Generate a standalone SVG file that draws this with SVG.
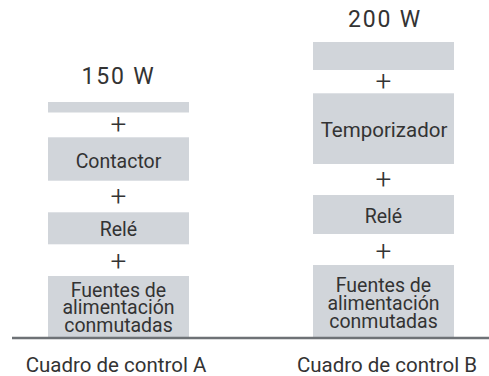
<svg xmlns="http://www.w3.org/2000/svg" width="489" height="376" viewBox="0 0 489 376">
<style>
.box{fill:#d1d5da}
.t{font-family:Roboto,"Liberation Sans",sans-serif;fill:#333;text-anchor:middle}
.lbl{font-size:19.5px}
.lg{font-size:20.5px}
.w{font-size:23px;letter-spacing:1.8px}
.cap{font-size:20.5px}
.plus{font-size:28px;font-weight:300}
.base{stroke:#6e7276;stroke-width:2.5}
</style>
<rect width="489" height="376" fill="#fff"/>
<g id="panelA">
  <text class="t w" x="118.5" y="84">150 W</text>
  <g id="a-top"><rect class="box" x="48" y="102" width="141" height="10.5"/></g>
  <text class="t plus" x="118.5" y="134.3">+</text>
  <g id="a-contactor"><rect class="box" x="48" y="137.3" width="141" height="43.4"/><text class="t lbl" x="118.5" y="168.3">Contactor</text></g>
  <text class="t plus" x="118.5" y="206">+</text>
  <g id="a-rele"><rect class="box" x="48" y="212.3" width="141" height="32"/><text class="t lbl" x="118.5" y="236">Relé</text></g>
  <text class="t plus" x="118.5" y="271">+</text>
  <g id="a-fuentes"><rect class="box" x="48" y="276" width="141" height="61"/><text class="t lbl" x="118.5" y="296.5">Fuentes de</text><text class="t lbl" x="118.5" y="314">alimentación</text><text class="t lbl" x="118.5" y="331.5">conmutadas</text></g>
  <text class="t cap" x="116" y="371.7">Cuadro de control A</text>
</g>
<g id="panelB">
  <text class="t w" x="385" y="26.7">200 W</text>
  <g id="b-top"><rect class="box" x="313" y="42" width="141" height="28"/></g>
  <text class="t plus" x="383.5" y="91">+</text>
  <g id="b-temporizador"><rect class="box" x="313" y="93.3" width="141" height="70.7"/><text class="t lg" x="384" y="136.7">Temporizador</text></g>
  <text class="t plus" x="383.5" y="189.3">+</text>
  <g id="b-rele"><rect class="box" x="313" y="195" width="141" height="39"/><text class="t lbl" x="383.5" y="223">Relé</text></g>
  <text class="t plus" x="383.5" y="261">+</text>
  <g id="b-fuentes"><rect class="box" x="313" y="265" width="141" height="72"/><text class="t lbl" x="383.5" y="291.7">Fuentes de</text><text class="t lbl" x="383.5" y="310">alimentación</text><text class="t lbl" x="383.5" y="328.3">conmutadas</text></g>
  <text class="t cap" x="387" y="371.7">Cuadro de control B</text>
</g>
<g id="connectors">
  <line class="base" x1="12" y1="338" x2="489" y2="338"/>
</g>
</svg>
